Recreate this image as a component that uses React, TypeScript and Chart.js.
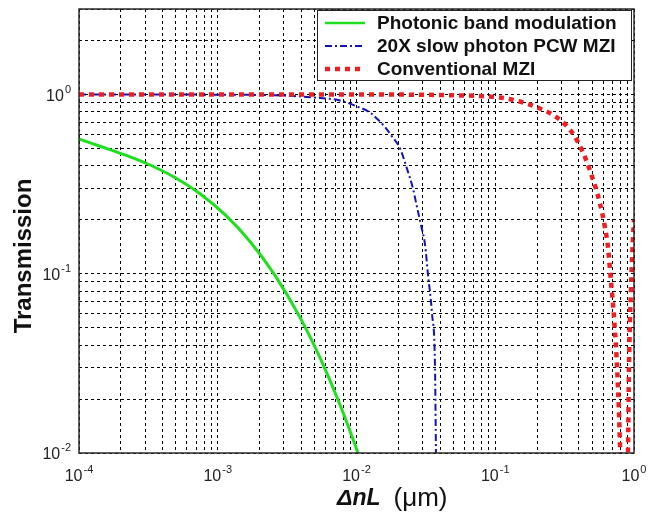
import React, { useEffect, useRef } from "react";
import { Chart, registerables } from "chart.js";

Chart.register(...registerables);

// ---- axes ----
const xMin = 1e-4;
const xMax = 1;
const yMin = 1e-2;
const yMax = 3;
const xDecades = [-4, -3, -2, -1, 0];
const yDecades = [-2, -1, 0];
const xTitleMain = "\u0394nL";
const xTitleUnit = "(\u03bcm)";
const yTitle = "Transmission";

// ---- series ----
const seriesLabels = [
  "Photonic band modulation",
  "20X slow photon PCW MZI",
  "Conventional MZI",
];

const greenX = [1e-4, 1.417e-4, 2.145e-4, 3.249e-4, 4.918e-4, 7.449e-4, 1.128e-3, 1.708e-3, 2.586e-3, 3.916e-3, 5.456e-3, 7.605e-3, 1.025e-2, 1.152e-2];
const greenY = [0.5645, 0.5146, 0.4603, 0.4044, 0.3442, 0.2796, 0.2138, 0.1515, 0.098, 0.0571, 0.034, 0.0186, 0.01, 0.00768];

const blueX = [1e-4, 1e-3, 3e-3, 5e-3, 7.6e-3, 1e-2, 1.25e-2, 1.4e-2, 1.6e-2, 1.8e-2, 2.06e-2, 2.3e-2, 2.55e-2, 2.7e-2, 2.9e-2, 3.12e-2, 3.27e-2, 3.5e-2, 3.68e-2, 3.74e-2, 3.9e-2];
const blueY = [1.0, 0.998, 0.986, 0.962, 0.926, 0.86, 0.794, 0.735, 0.66, 0.585, 0.5, 0.39, 0.3, 0.245, 0.19, 0.145, 0.1, 0.06, 0.03, 0.01, 0.001];

const redX = [1e-4, 1e-2, 5e-2, 0.108, 0.15, 0.21, 0.279, 0.363, 0.429, 0.482, 0.569, 0.618, 0.65, 0.675, 0.72, 0.76, 0.795, 0.84, 0.905, 0.92, 0.95, 0.98, 1.0];
const redY = [1.0, 1.0, 0.99, 0.962, 0.914, 0.835, 0.744, 0.605, 0.474, 0.376, 0.246, 0.181, 0.14, 0.1, 0.055, 0.027, 0.01, 0.001, 0.01, 0.03, 0.08, 0.15, 0.2];

const green = "#1fe01f";
const blue = "#1414b4";
const red = "#f01e23";
const blueDash = [7, 3, 2, 3];
const redDash = [5, 5];

const FONT = '"Liberation Sans", Arial, Helvetica, sans-serif';

function logTicks(min: number, max: number) {
  const out: { value: number }[] = [];
  for (let e = -6; e <= 2; e++) {
    for (let m = 1; m <= 9; m++) {
      const v = parseFloat((m * Math.pow(10, e)).toPrecision(6));
      if (v >= min * 0.9999 && v <= max * 1.0001) out.push({ value: v });
    }
  }
  return out;
}

function pts(xs: number[], ys: number[]) {
  return xs.map((x, i) => ({ x, y: ys[i] }));
}

function drawPow(ctx: CanvasRenderingContext2D, exp: number, x: number, y: number, align: "center" | "right") {
  const base = "10";
  const sup = String(exp);
  ctx.font = `16px ${FONT}`;
  const wb = ctx.measureText(base).width;
  ctx.font = `11px ${FONT}`;
  const ws = ctx.measureText(sup).width;
  const total = wb + ws + 1;
  const x0 = align === "center" ? x - total / 2 : x - total;
  ctx.textAlign = "left";
  ctx.textBaseline = "alphabetic";
  ctx.fillStyle = "#222";
  ctx.font = `16px ${FONT}`;
  ctx.fillText(base, x0, y);
  ctx.font = `11px ${FONT}`;
  ctx.fillText(sup, x0 + wb + 1, y - 8);
}

const decor = {
  id: "decor",
  afterDraw(chart: any) {
    const { ctx, chartArea: a, scales } = chart;
    ctx.save();
    // axes box
    ctx.setLineDash([]);
    ctx.strokeStyle = "#2a2a2a";
    ctx.lineWidth = 1.5;
    ctx.strokeRect(a.left, a.top, a.right - a.left, a.bottom - a.top);

    // tick labels
    xDecades.forEach((e) => {
      const px = scales.x.getPixelForValue(Math.pow(10, e));
      drawPow(ctx, e, px, a.bottom + 28, "center");
    });
    yDecades.forEach((e) => {
      const py = scales.y.getPixelForValue(Math.pow(10, e));
      drawPow(ctx, e, a.left - 8, py + 6, "right");
    });

    // x title
    ctx.fillStyle = "#111";
    ctx.textBaseline = "alphabetic";
    ctx.textAlign = "left";
    ctx.font = `italic bold 23px ${FONT}`;
    const tx = 337;
    ctx.fillText(xTitleMain, tx, 505);
    const w1 = ctx.measureText(xTitleMain).width;
    ctx.font = `26px ${FONT}`;
    ctx.fillText(xTitleUnit, tx + w1 + 13, 506);

    // y title
    ctx.save();
    ctx.translate(31, 256);
    ctx.rotate(-Math.PI / 2);
    ctx.textAlign = "center";
    ctx.font = `bold 24px ${FONT}`;
    ctx.fillText(yTitle, 0, 0);
    ctx.restore();

    // legend
    const lx = 317.5, ly = 10.5, lw = 314, lh = 70;
    ctx.fillStyle = "#fff";
    ctx.fillRect(lx, ly, lw, lh);
    ctx.strokeStyle = "#222";
    ctx.lineWidth = 1;
    ctx.strokeRect(lx, ly, lw, lh);
    const rows = [23, 46, 69];
    const styles = [
      { color: green, dash: [] as number[], width: 2.5 },
      { color: blue, dash: blueDash, width: 2 },
      { color: red, dash: redDash, width: 4.5 },
    ];
    rows.forEach((ry, i) => {
      const s = styles[i];
      ctx.beginPath();
      ctx.setLineDash(s.dash);
      ctx.lineCap = "butt";
      ctx.strokeStyle = s.color;
      ctx.lineWidth = s.width;
      ctx.moveTo(325, ry);
      ctx.lineTo(365, ry);
      ctx.stroke();
      ctx.setLineDash([]);
      ctx.fillStyle = "#111";
      ctx.font = `bold 19px ${FONT}`;
      ctx.textAlign = "left";
      ctx.textBaseline = "middle";
      ctx.fillText(seriesLabels[i], 377, ry + 1);
    });
    ctx.restore();
  },
};

export default function App() {
  const ref = useRef<HTMLCanvasElement>(null);
  useEffect(() => {
    if (!ref.current) return;
    const gridOpts = { color: "#000", lineWidth: 1, drawTicks: false };
    const chart = new Chart(ref.current, {
      type: "line",
      data: {
        datasets: [
          {
            label: seriesLabels[1],
            data: pts(blueX, blueY),
            borderColor: blue,
            borderWidth: 2,
            borderDash: blueDash,
            pointRadius: 0,
            cubicInterpolationMode: "monotone",
            clip: 0,
            order: 2,
          },
          {
            label: seriesLabels[0],
            data: pts(greenX, greenY),
            borderColor: green,
            borderWidth: 3,
            pointRadius: 0,
            cubicInterpolationMode: "monotone",
            clip: 0,
            order: 1,
          },
          {
            label: seriesLabels[2],
            data: pts(redX, redY),
            borderColor: red,
            borderWidth: 4.5,
            borderDash: redDash,
            borderCapStyle: "butt",
            pointRadius: 0,
            cubicInterpolationMode: "monotone",
            clip: 0,
            order: 0,
          },
        ],
      } as any,
      options: {
        responsive: false,
        animation: false,
        events: [],
        layout: { padding: { left: 79, right: 17, top: 9, bottom: 61 } },
        plugins: { legend: { display: false }, tooltip: { enabled: false } },
        scales: {
          x: {
            type: "logarithmic",
            min: xMin,
            max: xMax,
            ticks: { display: false },
            grid: gridOpts,
            border: { display: false, dash: [3, 3] },
            afterBuildTicks: (s: any) => {
              s.ticks = logTicks(xMin, xMax);
            },
          },
          y: {
            type: "logarithmic",
            min: yMin,
            max: yMax,
            ticks: { display: false },
            grid: gridOpts,
            border: { display: false, dash: [3, 3] },
            afterBuildTicks: (s: any) => {
              s.ticks = logTicks(yMin, yMax);
            },
          },
        },
      } as any,
      plugins: [decor],
    });
    return () => chart.destroy();
  }, []);
  return (
    <div style={{ position: "absolute", left: 0, top: 0, width: 651, height: 514, background: "#fff" }}>
      <canvas ref={ref} width={651} height={514} style={{ display: "block" }} />
    </div>
  );
}
